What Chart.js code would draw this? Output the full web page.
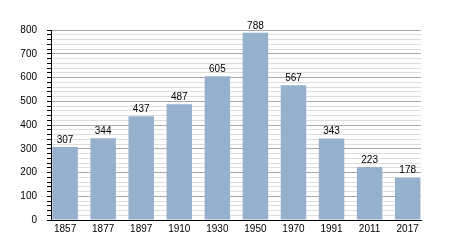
<!DOCTYPE html>
<html>
<head>
<meta charset="utf-8">
<script src="https://cdn.jsdelivr.net/npm/chart.js@4"></script>
<style>
  html, body { margin: 0; padding: 0; background: #fff; }
  #wrap { width: 450px; height: 250px; }
</style>
</head>
<body>
<div id="wrap"><canvas id="popChart"></canvas></div>
<script>
// années et population
const years = ['1857', '1877', '1897', '1910', '1930', '1950', '1970', '1991', '2011', '2017'];
const population = [307, 344, 437, 487, 605, 788, 567, 343, 223, 178];
const yMax = 800;

const fontFamily = '"Liberation Sans", Arial, sans-serif';

// une barre par année, positionnée par son rang sur un axe linéaire
const points = population.map(function (v, i) { return { x: i, y: v }; });

// valeurs au-dessus des barres
const valueLabels = {
    id: 'valueLabels',
    afterDatasetsDraw(chart) {
        const ctx = chart.ctx;
        const meta = chart.getDatasetMeta(0);
        ctx.save();
        ctx.font = '10px ' + fontFamily;
        ctx.fillStyle = '#000';
        ctx.textAlign = 'center';
        ctx.textBaseline = 'bottom';
        meta.data.forEach(function (bar, i) {
            ctx.fillText(population[i], bar.x, bar.y - 2);
        });
        ctx.restore();
    }
};

const ctx = document.getElementById('popChart').getContext('2d');
const popChart = new Chart(ctx, {
    type: 'bar',
    data: {
        datasets: [{
            data: points,
            backgroundColor: '#95b1cd',
            barPercentage: 0.67,
            categoryPercentage: 1
        }]
    },
    options: {
        responsive: true,
        maintainAspectRatio: false,
        animation: false,
        layout: { padding: { top: 30, right: 29, left: 0, bottom: 0 } },
        plugins: {
            legend: { display: false },
            tooltip: { enabled: false }
        },
        scales: {
            x: {
                type: 'linear',
                min: -0.37,
                max: 9.35,
                offset: false,
                grid: { display: false, drawTicks: false, offset: false },
                border: { display: true, color: '#000', width: 1 },
                ticks: {
                    stepSize: 1,
                    includeBounds: false,
                    autoSkip: false,
                    color: '#000',
                    font: { family: fontFamily, size: 10 },
                    maxRotation: 0,
                    padding: 3,
                    callback: function (v) { return Number.isInteger(v) ? years[v] : ''; }
                },
                afterFit: function (scale) { scale.height = 30; }
            },
            y: {
                min: 0,
                max: yMax,
                grid: {
                    color: function (c) {
                        return c.tick && c.tick.value % 100 === 0 ? '#a8a8a8' : '#dedede';
                    },
                    tickColor: '#000',
                    tickLength: 4,
                    drawTicks: true
                },
                border: { display: true, color: '#000', width: 1 },
                ticks: {
                    stepSize: 20,
                    autoSkip: false,
                    color: '#000',
                    padding: 10,
                    font: { family: fontFamily, size: 10 },
                    callback: function (v) { return v % 100 === 0 ? v : ''; }
                },
                afterFit: function (scale) { scale.width = 51; }
            }
        }
    },
    plugins: [valueLabels]
});
</script>
</body>
</html>
